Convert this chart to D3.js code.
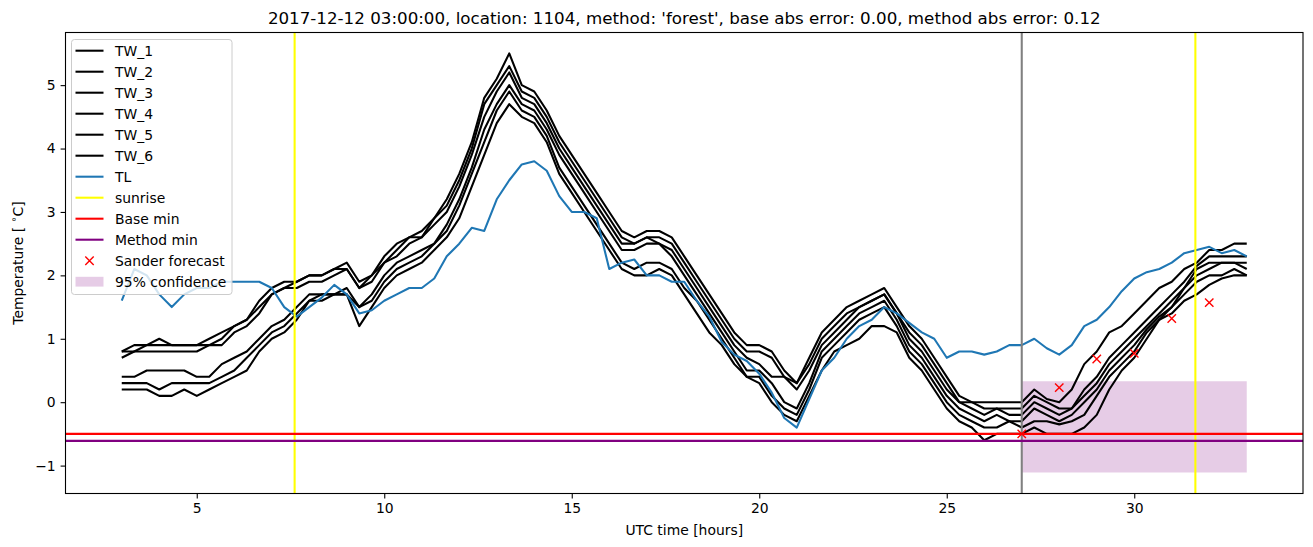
<!DOCTYPE html>
<html><head><meta charset="utf-8">
<script src="https://cdn.jsdelivr.net/npm/d3@7"></script>
<style>body{margin:0;background:#fff} text{font-family:"DejaVu Sans",sans-serif;fill:#000}</style>
</head><body><svg id="c" width="1313" height="547"></svg>
<script>
// sampling times: every 20 minutes from 03:00 to 33:00 (hours since 2017-12-12 00 UTC)
const hours = d3.range(0, 91).map(i => 3 + i / 3);
const TW_1 = [0.8,0.9,0.9, 1.0,0.9,0.9, 0.9,1.0,1.1, 1.2,1.3,1.6, 1.8,1.9,1.9, 2.0,2.0,2.1, 2.2,1.9,2.0, 2.3,2.5,2.6, 2.7,2.9,3.2, 3.6,4.1,4.8, 5.1,5.5,5.0, 4.9,4.6,4.2, 3.9,3.6,3.3, 3.0,2.7,2.6, 2.7,2.7,2.6, 2.3,2.0,1.7, 1.4,1.1,0.9, 0.9,0.8,0.5, 0.3,0.7,1.1, 1.3,1.5,1.6, 1.7,1.8,1.5, 1.2,1.0,0.7, 0.4,0.1,0.0, 0.0,0.0,0.0, 0.0,0.2,0.05, 0.0,0.2,0.6, 0.8,1.1,1.2, 1.4,1.6,1.8, 1.9,2.1,2.2, 2.4,2.4,2.5, 2.5];
const TW_2 = [0.8,0.8,0.9, 0.9,0.9,0.9, 0.9,0.9,1.0, 1.2,1.3,1.5, 1.7,1.8,1.9, 2.0,2.0,2.1, 2.1,1.8,2.0, 2.2,2.4,2.6, 2.6,2.9,3.1, 3.5,4.0,4.7, 5.0,5.3,4.9, 4.8,4.5,4.1, 3.8,3.5,3.2, 2.9,2.6,2.5, 2.6,2.6,2.5, 2.2,1.9,1.6, 1.3,1.0,0.8, 0.8,0.7,0.4, 0.3,0.6,1.0, 1.2,1.4,1.5, 1.6,1.7,1.4, 1.1,0.9,0.6, 0.3,0.0,0.0, -0.1,-0.1,-0.1, -0.1,0.1,0.0, -0.1,-0.1,0.2, 0.4,0.7,0.9, 1.1,1.3,1.5, 1.7,1.9,2.15, 2.3,2.3,2.3, 2.3];
const TW_3 = [0.7,0.8,0.8, 0.8,0.8,0.8, 0.8,0.9,0.9, 1.1,1.2,1.4, 1.7,1.8,1.8, 1.9,1.9,2.0, 2.1,1.8,1.9, 2.2,2.3,2.5, 2.6,2.8,3.0, 3.4,3.9,4.5, 4.9,5.2,4.8, 4.7,4.4,4.0, 3.7,3.4,3.1, 2.8,2.5,2.5, 2.6,2.5,2.4, 2.1,1.8,1.5, 1.2,0.9,0.7, 0.6,0.4,0.4, 0.2,0.5,0.9, 1.1,1.3,1.5, 1.6,1.7,1.4, 1.0,0.8,0.5, 0.2,0.0,-0.1, -0.2,-0.1,-0.2, -0.2,0.0,-0.1, -0.2,-0.1,0.1, 0.3,0.6,0.8, 1.0,1.2,1.4, 1.6,1.8,2.1, 2.2,2.2,2.2, 2.2];
const TW_4 = [0.4,0.4,0.5, 0.5,0.5,0.5, 0.4,0.4,0.6, 0.7,0.8,1.0, 1.2,1.3,1.5, 1.7,1.7,1.7, 1.8,1.5,1.7, 2.0,2.2,2.3, 2.4,2.5,2.8, 3.2,3.7,4.3, 4.7,5.0,4.7, 4.6,4.3,3.9, 3.6,3.3,3.0, 2.7,2.4,2.4, 2.5,2.5,2.3, 2.0,1.7,1.4, 1.1,0.8,0.5, 0.5,0.3,0.0, -0.1,0.3,0.8, 1.0,1.2,1.4, 1.5,1.6,1.3, 0.9,0.7,0.4, 0.1,-0.1,-0.2, -0.3,-0.2,-0.3, -0.3,-0.1,-0.2, -0.3,-0.2,0.0, 0.2,0.5,0.7, 0.9,1.15,1.35, 1.5,1.8,2.0, 2.1,2.2,2.2, 2.1];
const TW_5 = [0.3,0.3,0.3, 0.2,0.3,0.3, 0.3,0.3,0.4, 0.5,0.7,0.9, 1.1,1.2,1.4, 1.6,1.7,1.7, 1.7,1.5,1.6, 1.9,2.1,2.2, 2.3,2.5,2.7, 3.1,3.6,4.1, 4.6,4.9,4.6, 4.5,4.2,3.7, 3.4,3.1,2.8, 2.5,2.2,2.1, 2.2,2.2,2.1, 1.8,1.6,1.3, 1.0,0.7,0.4, 0.4,0.1,-0.1, -0.2,0.2,0.7, 0.9,1.1,1.3, 1.4,1.5,1.2, 0.8,0.6,0.3, 0.0,-0.2,-0.3, -0.4,-0.4,-0.3, -0.4,-0.3,-0.3, -0.35,-0.3,-0.2, 0.1,0.4,0.6, 0.8,1.1,1.3, 1.5,1.7,1.9, 2.0,2.0,2.1, 2.0];
const TW_6 = [0.2,0.2,0.2, 0.1,0.1,0.2, 0.1,0.2,0.3, 0.4,0.5,0.8, 1.0,1.1,1.3, 1.6,1.6,1.7, 1.7,1.2,1.5, 1.8,2.0,2.1, 2.2,2.4,2.6, 2.9,3.4,3.9, 4.4,4.7,4.5, 4.4,4.1,3.6, 3.3,3.0,2.7, 2.4,2.1,2.0, 2.0,2.1,2.0, 1.7,1.4,1.1, 0.9,0.6,0.4, 0.3,0.0,-0.2, -0.3,0.1,0.5, 0.8,0.9,1.0, 1.2,1.2,1.1, 0.7,0.5,0.2, -0.1,-0.3,-0.4, -0.6,-0.5,-0.5, -0.5,-0.4,-0.5, -0.5,-0.5,-0.4, -0.2,0.2,0.5, 0.7,1.0,1.3, 1.4,1.6,1.7, 1.85,1.95,2.0, 2.0];
const TL = [1.6,2.1,2.0, 1.7,1.5,1.7, 1.8,1.8,1.9, 1.9,1.9,1.9, 1.8,1.5,1.35, 1.5,1.65,1.85, 1.7,1.4,1.45, 1.6,1.7,1.8, 1.8,1.95,2.3, 2.5,2.75,2.7, 3.2,3.5,3.75, 3.8,3.65,3.25, 3.0,3.0,2.9, 2.1,2.2,2.25, 2.0,2.0,1.9, 1.9,1.6,1.35, 0.95,0.75,0.65, 0.45,0.15,-0.25, -0.4,0.05,0.5, 0.7,1.0,1.2, 1.3,1.5,1.4, 1.25,1.1,1.0, 0.7,0.8,0.8, 0.75,0.8,0.9, 0.9,1.0,0.85, 0.75,0.9,1.2, 1.3,1.5,1.75, 1.95,2.05,2.1, 2.2,2.35,2.4, 2.45,2.35,2.4, 2.3];
const sunrise = [7.61, 31.63];
const forecastTime = 27.0;
const baseMin = -0.5;
const methodMin = -0.61;
const sanderHours = [27, 28, 29, 30, 31, 32];
const sanderValues = [-0.5, 0.23, 0.68, 0.77, 1.32, 1.57];
const confHours = [27, 33];
const confLow = -1.11, confHigh = 0.33;
const xTicks = [5, 10, 15, 20, 25, 30];
const yTicks = [-1, 0, 1, 2, 3, 4, 5];
const title = "2017-12-12 03:00:00, location: 1104, method: 'forest', base abs error: 0.00, method abs error: 0.12";

const L = 65.5, R = 1303, T = 32.5, B = 493.5;
const x = d3.scaleLinear([1.5, 34.5], [L, R]);
const y = d3.scaleLinear([-1.44, 5.83], [B, T]);
const svg = d3.select("#c");
const FS = 13.9;

// confidence band
svg.append("path")
  .attr("d", d3.area().x(d => x(d)).y0(y(confLow)).y1(y(confHigh))(confHours))
  .attr("fill", "purple").attr("fill-opacity", 0.2);

const line = d3.line().x((d, i) => x(hours[i])).y(d => y(d));
[TW_1, TW_2, TW_3, TW_4, TW_5, TW_6].forEach(s => {
  svg.append("path").attr("d", line(s)).attr("fill", "none")
    .attr("stroke", "#000").attr("stroke-width", 2.08).attr("stroke-linejoin", "round");
});
svg.append("path").attr("d", line(TL)).attr("fill", "none")
  .attr("stroke", "#1f77b4").attr("stroke-width", 2.08).attr("stroke-linejoin", "round");

sunrise.forEach(h => svg.append("line").attr("x1", x(h)).attr("x2", x(h)).attr("y1", T).attr("y2", B)
  .attr("stroke", "yellow").attr("stroke-width", 2.08));
svg.append("line").attr("x1", x(forecastTime)).attr("x2", x(forecastTime)).attr("y1", T).attr("y2", B)
  .attr("stroke", "grey").attr("stroke-width", 2.08);
svg.append("line").attr("x1", L).attr("x2", R).attr("y1", y(baseMin)).attr("y2", y(baseMin))
  .attr("stroke", "red").attr("stroke-width", 2.08);
svg.append("line").attr("x1", L).attr("x2", R).attr("y1", y(methodMin)).attr("y2", y(methodMin))
  .attr("stroke", "purple").attr("stroke-width", 2.08);

const xMark = (g, cx, cy) => g.append("path")
  .attr("d", `M${cx-4.2},${cy-4.2}L${cx+4.2},${cy+4.2}M${cx-4.2},${cy+4.2}L${cx+4.2},${cy-4.2}`)
  .attr("stroke", "red").attr("stroke-width", 1.4).attr("fill", "none");
sanderHours.forEach((h, i) => xMark(svg, x(h), y(sanderValues[i])));

// frame
svg.append("rect").attr("x", L).attr("y", T).attr("width", R - L).attr("height", B - T)
  .attr("fill", "none").attr("stroke", "#000").attr("stroke-width", 1.1);

// axes
const gx = svg.append("g").attr("transform", `translate(0,${B})`)
  .call(d3.axisBottom(x).tickValues(xTicks).tickSize(4.9).tickPadding(4.9));
const gy = svg.append("g").attr("transform", `translate(${L},0)`)
  .call(d3.axisLeft(y).tickValues(yTicks).tickSize(4.9).tickPadding(4.9));
[gx, gy].forEach(g => {
  g.select(".domain").remove();
  g.selectAll("line").attr("stroke", "#000").attr("stroke-width", 1.1);
  g.selectAll("text").attr("font-size", FS).attr("font-family", "DejaVu Sans").attr("fill", "#000");
});

svg.append("text").attr("x", (L + R) / 2).attr("y", 24.2).attr("text-anchor", "middle")
  .attr("font-size", 16.7).text(title);
svg.append("text").attr("x", (L + R) / 2).attr("y", 535).attr("text-anchor", "middle")
  .attr("font-size", FS).text("UTC time [hours]");
const yl = svg.append("text").attr("transform", `translate(22.7,${(T + B) / 2}) rotate(-90)`)
  .attr("text-anchor", "middle").attr("font-size", FS);
yl.append("tspan").text("Temperature [ ");
yl.append("tspan").attr("font-size", FS * 0.7).attr("dy", -5.5).text("∘");
yl.append("tspan").attr("dy", 5.5).text("C]");

// legend
const legendItems = [
  {label: "TW_1", type: "line", color: "#000"},
  {label: "TW_2", type: "line", color: "#000"},
  {label: "TW_3", type: "line", color: "#000"},
  {label: "TW_4", type: "line", color: "#000"},
  {label: "TW_5", type: "line", color: "#000"},
  {label: "TW_6", type: "line", color: "#000"},
  {label: "TL", type: "line", color: "#1f77b4"},
  {label: "sunrise", type: "line", color: "yellow"},
  {label: "Base min", type: "line", color: "red"},
  {label: "Method min", type: "line", color: "purple"},
  {label: "Sander forecast", type: "x", color: "red"},
  {label: "95% confidence", type: "patch", color: "purple"}
];
const lg = svg.append("g");
lg.append("rect").attr("x", 71.5).attr("y", 39.5).attr("width", 160.5).attr("height", 255)
  .attr("rx", 3).attr("fill", "#fff").attr("fill-opacity", 0.8).attr("stroke", "#cccccc").attr("stroke-width", 1);
legendItems.forEach((d, i) => {
  const cy = 50.7 + 21 * i;
  if (d.type === "line") {
    lg.append("line").attr("x1", 75.5).attr("x2", 103.5).attr("y1", cy).attr("y2", cy)
      .attr("stroke", d.color).attr("stroke-width", 2.08);
  } else if (d.type === "x") {
    xMark(lg, 89.5, cy);
  } else {
    lg.append("rect").attr("x", 75.5).attr("y", cy - 4.9).attr("width", 28).attr("height", 9.8)
      .attr("fill", d.color).attr("fill-opacity", 0.2);
  }
  lg.append("text").attr("x", 115).attr("y", cy).attr("dy", "0.35em").attr("font-size", FS).text(d.label);
});
</script></body></html>
